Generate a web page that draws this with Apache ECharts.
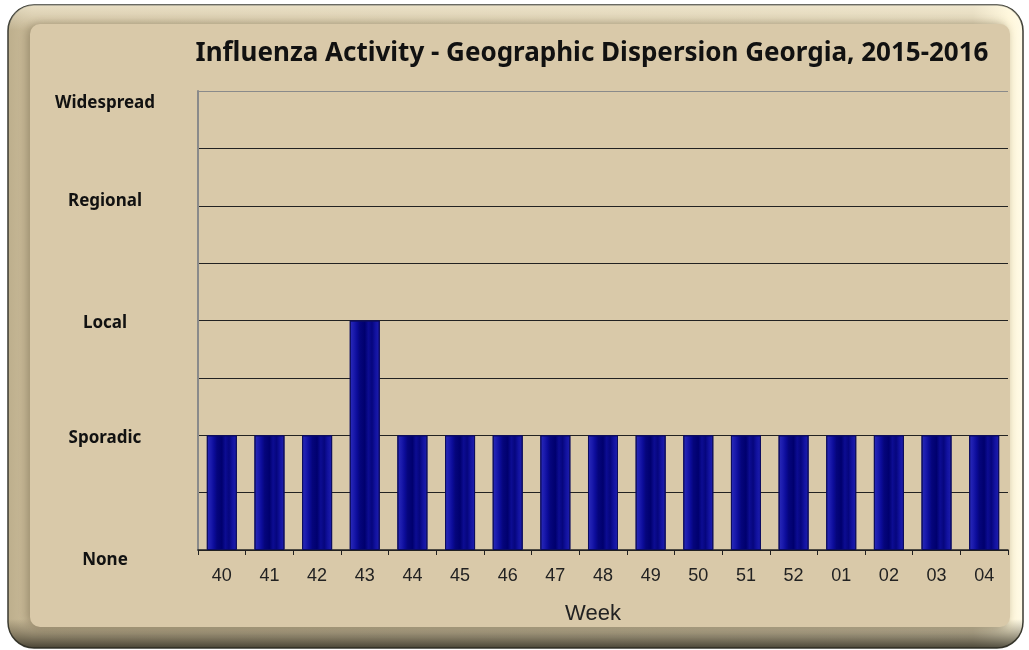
<!DOCTYPE html>
<html>
<head>
<meta charset="utf-8">
<script src="https://cdn.jsdelivr.net/npm/echarts@6/dist/echarts.min.js"></script>
<style>
  html, body { margin: 0; padding: 0; background: #ffffff; }
  #chart { width: 1029px; height: 650px; }
</style>
</head>
<body>
<div id="chart"></div>
<script>
// influenza geographic dispersion, Georgia 2015-2016

const weeks = ['40', '41', '42', '43', '44', '45', '46', '47', '48', '49', '50', '51', '52', '01', '02', '03', '04'];
// 0 None, 1 Sporadic, 2 Local, 3 Regional, 4 Widespread
const activity = [1, 1, 1, 2, 1, 1, 1, 1, 1, 1, 1, 1, 1, 1, 1, 1, 1];
const levelNames = ['None', 'Sporadic', 'Local', 'Regional', 'Widespread'];

const chartDom = document.getElementById('chart');
let chart = echarts.init(chartDom);

const barFill = new echarts.graphic.LinearGradient(0, 0, 1, 0, [
    { offset: 0, color: '#2c2cba' },
    { offset: 0.14, color: '#1a1aac' },
    { offset: 0.24, color: '#0c0c9a' },
    { offset: 0.34, color: '#05057c' },
    { offset: 0.5, color: '#00006e' },
    { offset: 0.62, color: '#0c0c92' },
    { offset: 0.74, color: '#06067e' },
    { offset: 0.86, color: '#1212a0' },
    { offset: 1, color: '#2020ae' }
]);

const labelFont = { fontFamily: 'Noto Sans', fontWeight: 'bold', fontSize: 17, color: '#111' };

let option = {
    backgroundColor: '#ffffff',
    graphic: [
        {
            type: 'rect',
            z: -10,
            shape: { x: 8, y: 5, width: 1015, height: 643, r: 26 },
            style: {
                fill: new echarts.graphic.LinearGradient(0, 0, 1, 0, [
                    { offset: 0, color: '#bcae8c' },
                    { offset: 0.025, color: '#cdbd9b' },
                    { offset: 0.95, color: '#dccfb0' },
                    { offset: 0.985, color: '#fff6d8' },
                    { offset: 1, color: '#fffbe8' }
                ]),
                stroke: '#3a3a30',
                lineWidth: 1.5
            }
        },
        {
            type: 'rect',
            z: -9,
            shape: { x: 8, y: 5, width: 1015, height: 643, r: 26 },
            style: {
                fill: new echarts.graphic.LinearGradient(0, 0, 0, 1, [
                    { offset: 0, color: 'rgba(255,250,230,0.55)' },
                    { offset: 0.04, color: 'rgba(255,250,230,0)' },
                    { offset: 0.955, color: 'rgba(60,55,40,0)' },
                    { offset: 0.975, color: 'rgba(60,55,40,0.35)' },
                    { offset: 1, color: 'rgba(40,38,28,0.8)' }
                ])
            }
        },
        {
            type: 'rect',
            z: -8,
            shape: { x: 30, y: 24, width: 980, height: 603, r: 10 },
            style: {
                fill: '#d9c9a9',
                shadowBlur: 10,
                shadowOffsetX: -3,
                shadowColor: 'rgba(120,108,80,0.6)'
            }
        }
    ],
    title: {
        text: 'Influenza Activity - Geographic Dispersion Georgia, 2015-2016',
        left: 587,
        top: 36,
        textAlign: 'center',
        textStyle: {
            fontFamily: 'Noto Sans',
            fontWeight: 'bold',
            fontSize: 26,
            color: '#111111'
        }
    },
    grid: {
        left: 198,
        right: 21,
        top: 91,
        bottom: 100,
        containLabel: false
    },
    xAxis: {
        type: 'category',
        data: weeks,
        name: 'Week',
        nameLocation: 'middle',
        nameGap: 53,
        nameTextStyle: {
            fontFamily: 'Liberation Sans',
            fontSize: 22,
            color: '#222222',
            padding: [0, 20, 0, 0]
        },
        axisLine: {
            lineStyle: { color: '#222222', width: 1.5 }
        },
        axisTick: {
            show: true,
            length: 5,
            lineStyle: { color: '#222222' }
        },
        axisLabel: {
            fontFamily: 'Liberation Sans',
            fontSize: 18,
            color: '#222222',
            margin: 17
        }
    },
    yAxis: {
        type: 'value',
        min: 0,
        max: 4,
        interval: 0.5,
        axisLine: {
            show: true,
            lineStyle: { color: '#8a8a8a', width: 2 }
        },
        axisTick: { show: false },
        splitLine: {
            lineStyle: {
                color: ['#222', '#222', '#222', '#222', '#222', '#222', '#222', '#222', '#8a8a8a'],
                width: 1
            }
        },
        axisLabel: {
            align: 'center',
            margin: 93,
            formatter: function (val) {
                if (val % 1 !== 0) {
                    return '';
                }
                const styles = ['n', 's', 'l', 'r', 'w'];
                return '{' + styles[val] + '|' + levelNames[val] + '}';
            },
            rich: {
                n: Object.assign({ padding: [20, 0, 0, 0] }, labelFont),
                s: Object.assign({ padding: [6, 0, 0, 0] }, labelFont),
                l: Object.assign({ padding: [6, 0, 0, 0] }, labelFont),
                r: Object.assign({ padding: [0, 0, 10, 0] }, labelFont),
                w: Object.assign({ padding: [24, 0, 0, 0] }, labelFont)
            }
        }
    },
    series: [
        {
            name: 'Activity',
            type: 'bar',
            data: activity,
            barWidth: '63%',
            itemStyle: {
                color: barFill,
                borderColor: '#0c0c60',
                borderWidth: 1
            }
        }
    ]
};

option && chart.setOption(option);
</script>
</body>
</html>
